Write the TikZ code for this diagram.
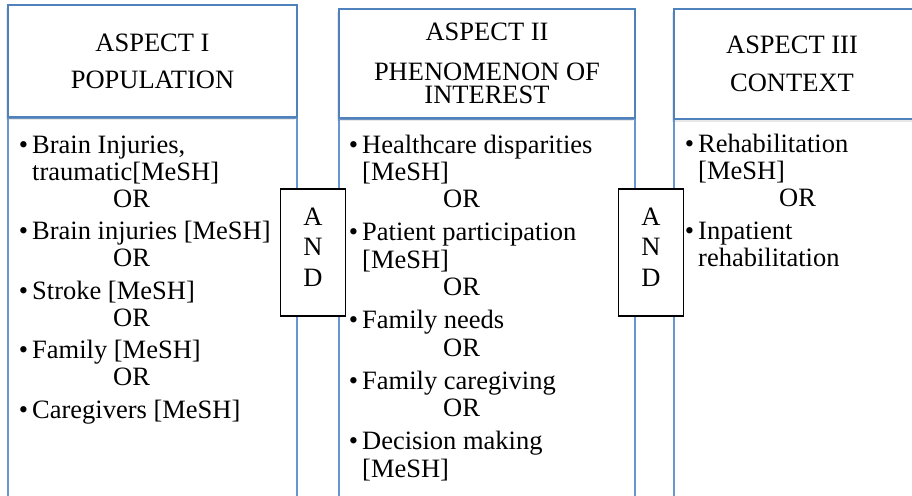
\documentclass[tikz,border=0pt]{standalone}
\usepackage{fontspec}
\setmainfont{Liberation Serif}
\usetikzlibrary{shadows}
\definecolor{aspectblue}{RGB}{79,129,189}
\definecolor{listblue}{RGB}{104,150,208}
\newcommand{\bul}{\llap{\textbullet\hspace{4pt}}}
\newcommand{\orline}{\hspace*{81pt}OR}
\newcommand{\mesh}{[MeSH]}

\begin{document}
\begin{tikzpicture}[x=1pt,y=-1pt,
    head/.style={draw=aspectblue,line width=1.4pt,fill=white,
      drop shadow={shadow xshift=-2pt,shadow yshift=-3pt,opacity=0.18,fill=gray}},
    list/.style={draw=listblue,line width=1.4pt},
    headtext/.style={anchor=base,align=center,inner sep=0pt,font=\fontsize{26.5}{27}\selectfont},
    listtext/.style={anchor=base west,align=left,inner sep=0pt,font=\fontsize{26.5}{27}\selectfont},
    andbox/.style={draw=black,line width=1.6pt,fill=white,align=center,inner sep=0pt,
      minimum width=65pt,minimum height=127pt,font=\fontsize{26.5}{30.5}\selectfont,text depth=11pt}]
  \useasboundingbox (0,0) rectangle (912,495);
  \clip (0,0) rectangle (912,495);
  % lists below the aspects
  \draw[list] (8,118) rectangle (297,510);
  \draw[list] (339,119) rectangle (635,510);
  \draw[list] (674,119) rectangle (916,510);
  % aspect headers
  \draw[head] (8,5) rectangle (297,117);
  \draw[head] (339,9) rectangle (635,118);
  \draw[head] (674,9) rectangle (916,119);
  \node[headtext] at (152.5,88) (popul) {ASPECT I\\[9pt]POPULATION};
  \node[headtext] at (487,103) (phenom) {ASPECT II\\[13pt]PHENOMENON OF\\[-4pt]INTEREST};
  \node[headtext] at (792,92) (context) {ASPECT III\\[12pt]CONTEXT};
  % search terms
  \node[listtext] at (32,418) (populterms) {\bul Brain Injuries,\\
    traumatic\mesh\\ \orline\\[5.5pt]
    \bul Brain injuries \mesh\\ \orline\\[5.5pt]
    \bul Stroke \mesh\\ \orline\\[5.5pt]
    \bul Family \mesh\\ \orline\\[5.5pt]
    \bul Caregivers \mesh};
  \node[listtext,font=\fontsize{26.5}{27.3}\selectfont] at (362,477) (phenomterms) {\bul Healthcare disparities\\
    \mesh\\ \orline\\[5.9pt]
    \bul Patient participation\\ \mesh\\ \orline\\[5.9pt]
    \bul Family needs\\ \orline\\[5.9pt]
    \bul Family caregiving\\ \orline\\[5.9pt]
    \bul Decision making\\ \mesh};
  \node[listtext] at (698,266) (contextterms) {\bul Rehabilitation\\
    \mesh\\ \orline\\[5.5pt]
    \bul Inpatient\\ rehabilitation};
  % AND between the aspects
  \node[andbox] at (313,252.5) (and1) {A\\N\\D};
  \node[andbox] at (651,252.5) (and2) {A\\N\\D};
\end{tikzpicture}
\end{document}
